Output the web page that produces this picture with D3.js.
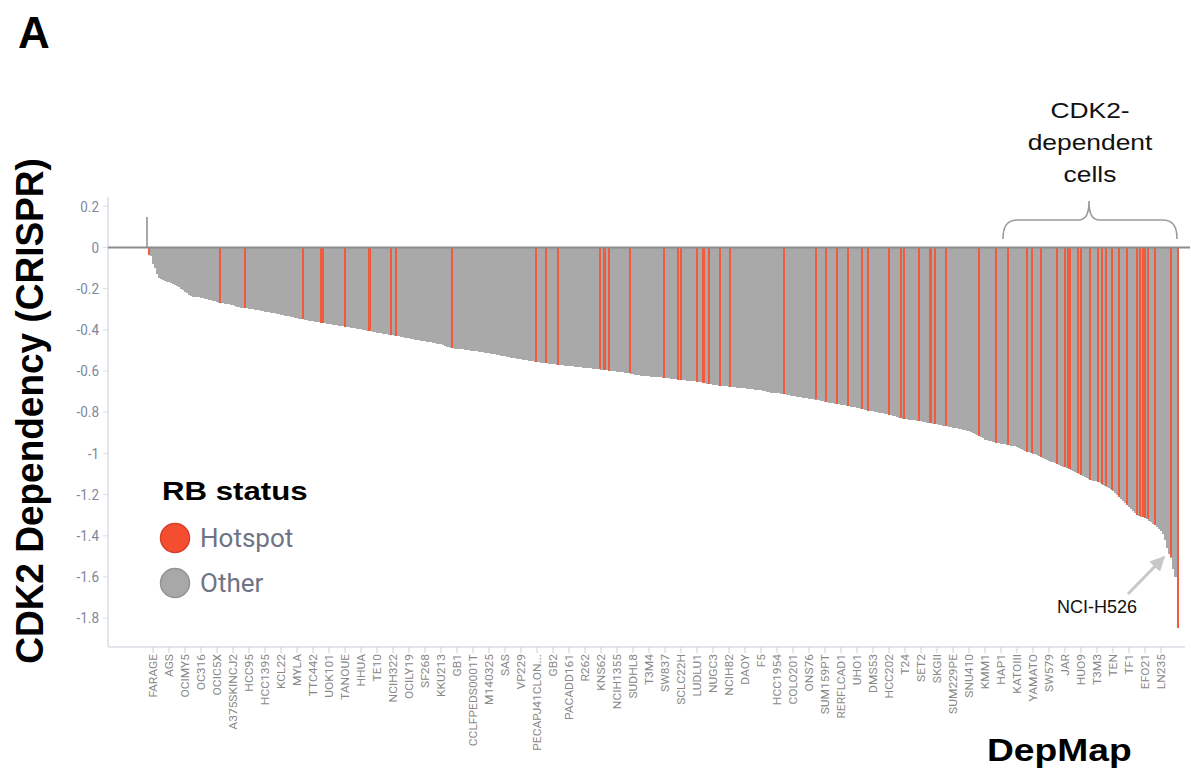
<!DOCTYPE html>
<html>
<head>
<meta charset="utf-8">
<script src="https://cdn.jsdelivr.net/npm/d3@7/dist/d3.min.js"></script>
<style>
  html, body { margin: 0; padding: 0; background: #fff; }
  svg { display: block; }
</style>
</head>
<body>
<svg id="chart" width="1191" height="772"></svg>
<script>
// ---- data -------------------------------------------------------------
// Cell lines shown as tick labels (every 16th line of the ranked list)
const tickNames = [
  "FARAGE","AGS","OCIMY5","OC316","OCIC5X","A375SKINCJ2","HCC95","HCC1395",
  "KCL22","MYLA","TTC442","UOK101","TANOUE","HHUA","TE10","NCIH322",
  "OCILY19","SF268","KKU213","GB1","CCLFPEDS0001T","M140325","SAS","VP229",
  "PECAPJ41CLON...","GB2","PACADD161","R262","KNS62","NCIH1355","SUDHL8","T3M4",
  "SW837","SCLC22H","LUDLU1","NUGC3","NCIH82","DAOY","F5","HCC1954",
  "COLO201","ONS76","SUM159PT","RERFLCAD1","UHO1","DMS53","HCC202","T24",
  "SET2","SKGII","SUM229PE","SNU410","KMM1","HAP1","KATOIII","YAMATO",
  "SW579","JAR","HUO9","T3M3","TEN","TF1","EFO21","LN235"
];
const firstTickRank = 7;
const tickStep = 16;

// Ranked CDK2 dependency scores, one value per pair of cell lines (RB status: Other)
const rankStep = 2;
const rankedScores = [
  0.15,-0.02,-0.04,-0.08,-0.10,-0.13,-0.148,-0.155,-0.160,-0.163,
  -0.166,-0.169,-0.172,-0.177,-0.182,-0.187,-0.193,-0.200,-0.207,-0.215,
  -0.222,-0.230,-0.236,-0.239,-0.240,-0.241,-0.242,-0.244,-0.247,-0.249,
  -0.251,-0.253,-0.255,-0.258,-0.262,-0.265,-0.268,-0.270,-0.271,-0.273,
  -0.274,-0.276,-0.278,-0.281,-0.284,-0.287,-0.290,-0.292,-0.294,-0.295,
  -0.296,-0.297,-0.299,-0.300,-0.302,-0.304,-0.306,-0.307,-0.309,-0.311,
  -0.313,-0.314,-0.316,-0.318,-0.320,-0.322,-0.324,-0.327,-0.329,-0.331,
  -0.333,-0.335,-0.337,-0.339,-0.341,-0.343,-0.345,-0.347,-0.349,-0.351,
  -0.353,-0.355,-0.357,-0.358,-0.360,-0.362,-0.364,-0.366,-0.367,-0.369,
  -0.370,-0.372,-0.373,-0.375,-0.376,-0.378,-0.379,-0.381,-0.382,-0.384,
  -0.386,-0.387,-0.389,-0.391,-0.393,-0.394,-0.396,-0.398,-0.400,-0.402,
  -0.404,-0.405,-0.407,-0.409,-0.411,-0.413,-0.414,-0.416,-0.418,-0.420,
  -0.422,-0.423,-0.425,-0.427,-0.429,-0.431,-0.432,-0.434,-0.436,-0.438,
  -0.440,-0.441,-0.443,-0.445,-0.447,-0.449,-0.450,-0.452,-0.454,-0.456,
  -0.458,-0.459,-0.461,-0.463,-0.465,-0.467,-0.468,-0.470,-0.474,-0.478,
  -0.481,-0.485,-0.489,-0.490,-0.491,-0.492,-0.493,-0.494,-0.495,-0.497,
  -0.498,-0.499,-0.501,-0.502,-0.503,-0.505,-0.506,-0.508,-0.509,-0.511,
  -0.512,-0.514,-0.515,-0.517,-0.519,-0.521,-0.523,-0.525,-0.527,-0.529,
  -0.531,-0.533,-0.535,-0.537,-0.538,-0.540,-0.542,-0.543,-0.545,-0.546,
  -0.548,-0.550,-0.551,-0.553,-0.555,-0.557,-0.558,-0.559,-0.560,-0.562,
  -0.563,-0.564,-0.566,-0.567,-0.568,-0.570,-0.571,-0.572,-0.573,-0.574,
  -0.575,-0.576,-0.577,-0.578,-0.579,-0.580,-0.581,-0.582,-0.583,-0.584,
  -0.585,-0.586,-0.587,-0.588,-0.589,-0.590,-0.591,-0.593,-0.594,-0.596,
  -0.597,-0.598,-0.599,-0.600,-0.602,-0.603,-0.604,-0.605,-0.607,-0.608,
  -0.609,-0.611,-0.613,-0.615,-0.617,-0.619,-0.621,-0.622,-0.624,-0.625,
  -0.625,-0.626,-0.627,-0.628,-0.628,-0.629,-0.630,-0.631,-0.632,-0.633,
  -0.635,-0.636,-0.637,-0.639,-0.640,-0.641,-0.642,-0.643,-0.644,-0.645,
  -0.646,-0.647,-0.648,-0.649,-0.650,-0.651,-0.653,-0.655,-0.657,-0.659,
  -0.661,-0.663,-0.664,-0.666,-0.667,-0.669,-0.671,-0.672,-0.673,-0.674,
  -0.675,-0.676,-0.677,-0.678,-0.679,-0.680,-0.681,-0.682,-0.683,-0.684,
  -0.685,-0.686,-0.688,-0.689,-0.690,-0.691,-0.692,-0.693,-0.696,-0.698,
  -0.701,-0.703,-0.705,-0.706,-0.707,-0.708,-0.709,-0.710,-0.711,-0.713,
  -0.715,-0.717,-0.719,-0.721,-0.723,-0.725,-0.727,-0.728,-0.730,-0.731,
  -0.733,-0.734,-0.736,-0.737,-0.739,-0.741,-0.743,-0.745,-0.747,-0.749,
  -0.751,-0.753,-0.755,-0.757,-0.759,-0.760,-0.762,-0.764,-0.766,-0.767,
  -0.769,-0.771,-0.773,-0.775,-0.777,-0.779,-0.781,-0.783,-0.785,-0.788,
  -0.790,-0.792,-0.794,-0.796,-0.798,-0.800,-0.802,-0.804,-0.806,-0.808,
  -0.810,-0.812,-0.815,-0.818,-0.820,-0.823,-0.826,-0.829,-0.832,-0.834,
  -0.835,-0.836,-0.837,-0.838,-0.840,-0.841,-0.842,-0.844,-0.846,-0.848,
  -0.850,-0.852,-0.854,-0.856,-0.858,-0.859,-0.861,-0.863,-0.865,-0.867,
  -0.869,-0.871,-0.873,-0.875,-0.877,-0.878,-0.881,-0.883,-0.885,-0.888,
  -0.890,-0.893,-0.896,-0.901,-0.906,-0.911,-0.916,-0.922,-0.927,-0.933,
  -0.937,-0.940,-0.942,-0.945,-0.947,-0.949,-0.951,-0.953,-0.954,-0.956,
  -0.958,-0.960,-0.962,-0.964,-0.966,-0.970,-0.974,-0.979,-0.983,-0.988,
  -0.991,-0.994,-0.997,-1.001,-1.005,-1.009,-1.013,-1.017,-1.021,-1.026,
  -1.030,-1.035,-1.040,-1.044,-1.049,-1.053,-1.057,-1.060,-1.064,-1.067,
  -1.071,-1.075,-1.079,-1.084,-1.089,-1.093,-1.098,-1.103,-1.108,-1.114,
  -1.119,-1.125,-1.129,-1.132,-1.134,-1.136,-1.141,-1.146,-1.151,-1.156,
  -1.162,-1.169,-1.175,-1.183,-1.192,-1.200,-1.209,-1.219,-1.230,-1.240,
  -1.250,-1.260,-1.270,-1.280,-1.290,-1.299,-1.303,-1.307,-1.311,-1.315,
  -1.320,-1.327,-1.334,-1.342,-1.350,-1.358,-1.367,-1.377,-1.392,-1.420,
  -1.460,-1.490,-1.510,-1.560,-1.598,-1.600
];

// Cell lines with an RB hotspot mutation: rank in the sorted list and score
const hotspotRanks = [
  2,73,98,156,174,176,198,222,223,244,249,305,389,399,411,453,457,458,462,483,
  517,531,534,550,556,557,562,573,583,637,669,679,690,701,715,721,742,754,757,772,
  783,784,788,799,832,849,861,880,885,894,910,918,921,923,931,934,943,951,955,959,
  965,972,980,990,993,996,998,1001,1008,1024,1031
];
const hotspotScores = [
  -0.035,-0.268,-0.295,-0.349,-0.365,-0.366,-0.384,-0.405,-0.406,-0.425,-0.430,-0.489,-0.556,-0.562,-0.570,-0.591,-0.593,-0.594,-0.598,-0.611,
  -0.632,-0.642,-0.643,-0.651,-0.656,-0.657,-0.663,-0.671,-0.676,-0.711,-0.737,-0.749,-0.760,-0.769,-0.785,-0.792,-0.813,-0.829,-0.833,-0.842,
  -0.853,-0.853,-0.857,-0.867,-0.915,-0.948,-0.959,-0.991,-0.999,-1.016,-1.052,-1.067,-1.073,-1.077,-1.096,-1.104,-1.129,-1.137,-1.147,-1.158,
  -1.177,-1.210,-1.250,-1.299,-1.305,-1.311,-1.315,-1.320,-1.347,-1.501,-1.849
];

const yTicks = [0.2, 0, -0.2, -0.4, -0.6, -0.8, -1, -1.2, -1.4, -1.6, -1.8];
const yDomain = [-1.94, 0.245];

const legendItems = ["Hotspot", "Other"];
const statusColors = { Hotspot: "#f25a3c", Other: "#a9a9a9" };

// ---- layout -----------------------------------------------------------
const svg = d3.select("#chart");
const nRanks = rankedScores.length * rankStep;

const plot = { left: 108, right: 1185, top: 197, bottom: 647 };
const barStart = 146;

const x = d3.scaleLinear().domain([0, nRanks]).range([barStart, barStart + nRanks]);
const y = d3.scaleLinear().domain(yDomain).range([plot.bottom, plot.top]);

const axisColor = "#dcdce6";
const tickTextColor = "#7d879c";

// ---- y axis -----------------------------------------------------------
const yAxisG = svg.append("g");
yAxisG.append("line")
  .attr("x1", plot.left).attr("x2", plot.left)
  .attr("y1", plot.top).attr("y2", plot.bottom)
  .attr("stroke", axisColor).attr("stroke-width", 1.5);

const fmt = v => (v === 0 ? "0" : String(+v.toFixed(1)));
const yt = yAxisG.selectAll("g.yt").data(yTicks).join("g")
  .attr("class", "yt")
  .attr("transform", d => `translate(0,${y(d)})`);
yt.append("line")
  .attr("x1", plot.left - 5).attr("x2", plot.left)
  .attr("stroke", axisColor).attr("stroke-width", 1);
yt.append("text")
  .attr("transform", `translate(${plot.left - 9},0) scale(0.9,1)`)
  .attr("text-anchor", "end")
  .attr("dy", "0.35em")
  .attr("font-family", "Roboto, sans-serif")
  .attr("font-size", 15)
  .attr("fill", tickTextColor)
  .text(d => fmt(d));

// ---- bars -------------------------------------------------------------
const barsG = svg.append("g").attr("shape-rendering", "crispEdges");
barsG.selectAll("rect.other").data(rankedScores).join("rect")
  .attr("class", "other")
  .attr("x", (d, i) => x(i * rankStep))
  .attr("width", x(rankStep) - x(0))
  .attr("y", d => Math.min(y(d), y(0)))
  .attr("height", d => Math.abs(y(d) - y(0)))
  .attr("fill", statusColors.Other);

const hotspots = hotspotRanks.map((r, i) => ({ rank: r, score: hotspotScores[i] }));
barsG.selectAll("rect.hot").data(hotspots).join("rect")
  .attr("class", "hot")
  .attr("x", d => x(d.rank))
  .attr("width", x(2) - x(0))
  .attr("y", d => Math.min(y(d.score), y(0)))
  .attr("height", d => Math.abs(y(d.score) - y(0)))
  .attr("fill", statusColors.Hotspot);

// zero line
svg.append("line")
  .attr("x1", plot.left).attr("x2", 1190)
  .attr("y1", y(0)).attr("y2", y(0))
  .attr("stroke", "#8c8c8c").attr("stroke-width", 2);

// ---- x axis -----------------------------------------------------------
svg.append("line")
  .attr("x1", plot.left).attr("x2", plot.right)
  .attr("y1", plot.bottom).attr("y2", plot.bottom)
  .attr("stroke", axisColor).attr("stroke-width", 1.5);

const xt = svg.append("g").selectAll("g").data(tickNames).join("g")
  .attr("transform", (d, i) => `translate(${x(firstTickRank + i * tickStep)},${plot.bottom})`);
xt.append("line")
  .attr("y1", 0).attr("y2", 6)
  .attr("stroke", "#cfcfd8").attr("stroke-width", 1);
xt.append("text")
  .attr("transform", "translate(0,7) scale(0.88,1) rotate(-90)")
  .attr("text-anchor", "end")
  .attr("dy", "0.35em")
  .attr("font-family", "Roboto, sans-serif")
  .attr("font-size", 12)
  .attr("fill", "#888")
  .text(d => d);

// ---- titles & annotations --------------------------------------------
svg.append("text")
  .attr("x", 18).attr("y", 48)
  .attr("font-family", "Liberation Sans, Arial, sans-serif")
  .attr("font-weight", "bold").attr("font-size", 44)
  .text("A");

svg.append("text")
  .attr("transform", "translate(43,411) scale(1.06,1) rotate(-90)")
  .attr("text-anchor", "middle")
  .attr("font-family", "Liberation Sans, Arial, sans-serif")
  .attr("font-weight", "bold").attr("font-size", 37)
  .text("CDK2 Dependency (CRISPR)");

svg.append("text")
  .attr("transform", "translate(987,761) scale(1.2,1)")
  .attr("font-family", "Liberation Sans, Arial, sans-serif")
  .attr("font-weight", "bold").attr("font-size", 31)
  .text("DepMap");

// bracket over the most dependent lines
svg.append("path")
  .attr("d", "M1003,239 C1003,226 1007,220 1018,220 L1078,220 C1086,220 1089,214 1089,201 C1089,214 1092,220 1100,220 L1162,220 C1173,220 1177,226 1177,239")
  .attr("fill", "none").attr("stroke", "#9a9a9a").attr("stroke-width", 1.6);

const braceLabel = svg.append("text")
  .attr("transform", "translate(1090,0) scale(1.2,1)")
  .attr("text-anchor", "middle")
  .attr("font-family", "Liberation Sans, Arial, sans-serif")
  .attr("font-size", 22)
  .attr("fill", "#111");
[["CDK2-", 118], ["dependent", 150], ["cells", 182]].forEach(([t, yy]) => {
  braceLabel.append("tspan").attr("x", 0).attr("y", yy).text(t);
});

// NCI-H526 callout
svg.append("defs").append("marker")
  .attr("id", "arrowHead")
  .attr("viewBox", "0 0 10 10")
  .attr("refX", 9).attr("refY", 5)
  .attr("markerWidth", 5).attr("markerHeight", 5)
  .attr("orient", "auto")
  .append("path").attr("d", "M0,0 L10,5 L0,10 Z").attr("fill", "#c8c8c8");
svg.append("line")
  .attr("x1", 1128).attr("y1", 594)
  .attr("x2", 1164).attr("y2", 557)
  .attr("stroke", "#c8c8c8").attr("stroke-width", 3)
  .attr("marker-end", "url(#arrowHead)");
svg.append("text")
  .attr("x", 1057).attr("y", 613)
  .attr("font-family", "Liberation Sans, Arial, sans-serif")
  .attr("font-size", 18)
  .attr("fill", "#111")
  .text("NCI-H526");

// ---- legend -----------------------------------------------------------
svg.append("text")
  .attr("transform", "translate(162,500) scale(1.2,1)")
  .attr("font-family", "Liberation Sans, Arial, sans-serif")
  .attr("font-weight", "bold").attr("font-size", 26)
  .text("RB status");

const lg = svg.append("g").selectAll("g").data(legendItems).join("g")
  .attr("transform", (d, i) => `translate(175,${538 + i * 45})`);
lg.append("circle")
  .attr("r", 14.5)
  .attr("fill", d => d === "Hotspot" ? "#f44d30" : "#a8a8a8")
  .attr("stroke", d => d === "Hotspot" ? "#d4402a" : "#939393")
  .attr("stroke-width", 1.5);
lg.append("text")
  .attr("x", 25).attr("y", 9)
  .attr("font-family", "Roboto, sans-serif")
  .attr("font-size", 26)
  .attr("fill", "#6e7385")
  .text(d => d);
</script>
</body>
</html>
